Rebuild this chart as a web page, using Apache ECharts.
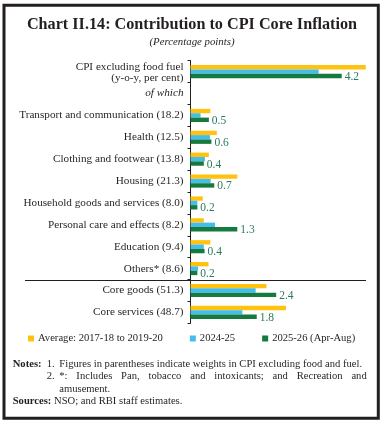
<!DOCTYPE html>
<html><head><meta charset="utf-8">
<script src="https://cdn.jsdelivr.net/npm/echarts@6/dist/echarts.min.js"></script>
<style>html,body{margin:0;padding:0;background:#fff}#c{width:384px;height:421px}</style>
</head><body><div id="c"></div>
<script>
const categories = [
  'CPI excluding food fuel\n(y-o-y, per cent)',
  'of which',
  'Transport and communication (18.2)',
  'Health (12.5)',
  'Clothing and footwear (13.8)',
  'Housing (21.3)',
  'Household goods and services (8.0)',
  'Personal care and effects (8.2)',
  'Education (9.4)',
  'Others* (8.6)',
  'Core goods (51.3)',
  'Core services (48.7)'
];
const seriesNames = ['Average: 2017-18 to 2019-20', '2024-25', '2025-26 (Apr-Aug)'];
const avg1720 = [4.87, null, 0.55, 0.73, 0.51, 1.30, 0.34, 0.37, 0.55, 0.50, 2.11, 2.65];
const fy2425  = [3.56, null, 0.28, 0.54, 0.40, 0.56, 0.19, 0.68, 0.37, 0.21, 1.81, 1.44];
const fy2526  = [4.20, null, 0.51, 0.58, 0.37, 0.66, 0.19, 1.30, 0.39, 0.19, 2.38, 1.84];

const SERIF = '"Liberation Serif", "DejaVu Serif", serif';
const INK = '#231f20';
const colors = ['#FFC20E', '#45BDEB', '#147A3E'];

const chart = echarts.init(document.getElementById('c'), null, {renderer: 'canvas'});

function measure(txt, font) {
  const ctx = document.createElement('canvas').getContext('2d');
  ctx.font = font;
  return ctx.measureText(txt).width;
}
function justified(words, x0, x1, y, size) {
  const font = size + 'px ' + SERIF;
  const widths = words.map(w => measure(w, font));
  const total = widths.reduce((a, b) => a + b, 0);
  const gap = (x1 - x0 - total) / (words.length - 1);
  const out = [];
  let x = x0;
  words.forEach((w, i) => {
    out.push({type: 'text', x: x, y: y, style: {text: w, font: font, fill: INK, textVerticalAlign: 'middle'}});
    x += widths[i] + gap;
  });
  return out;
}

const noteSize = 10.6;
const notesGraphic = [
  {type: 'rect', shape: {x: 4, y: 5.3, width: 374.3, height: 413}, style: {fill: 'none', stroke: INK, lineWidth: 3}},
  {type: 'text', x: 12.7, y: 364, style: {text: 'Notes:', font: 'bold ' + noteSize + 'px ' + SERIF, fill: INK, textVerticalAlign: 'middle'}},
  {type: 'text', x: 46.7, y: 364, style: {text: '1.', font: noteSize + 'px ' + SERIF, fill: INK, textVerticalAlign: 'middle'}},
  {type: 'text', x: 59.3, y: 364, style: {text: 'Figures in parentheses indicate weights in CPI excluding food and fuel.', font: noteSize + 'px ' + SERIF, fill: INK, textVerticalAlign: 'middle'}},
  {type: 'text', x: 46.7, y: 376.5, style: {text: '2.', font: noteSize + 'px ' + SERIF, fill: INK, textVerticalAlign: 'middle'}},
  ...justified(['*:', 'Includes', 'Pan,', 'tobacco', 'and', 'intoxicants;', 'and', 'Recreation', 'and'], 59.3, 366.7, 376.5, noteSize),
  {type: 'text', x: 59.3, y: 389, style: {text: 'amusement.', font: noteSize + 'px ' + SERIF, fill: INK, textVerticalAlign: 'middle'}},
  {type: 'text', x: 12.7, y: 401.7, style: {
    text: '{b|Sources:} NSO; and RBI staff estimates.',
    font: noteSize + 'px ' + SERIF, fill: INK, textVerticalAlign: 'middle',
    rich: {b: {fontWeight: 'bold', fontFamily: SERIF, fontSize: noteSize, fill: INK}}
  }}
];

const option = {
  animation: false,
  backgroundColor: '#fff',
  title: [
    {text: 'Chart II.14: Contribution to CPI Core Inflation', left: 'center', top: 16.5, padding: 0,
     textStyle: {fontFamily: SERIF, fontWeight: 'bold', fontSize: 16.2, color: INK}},
    {text: '(Percentage points)', left: 'center', top: 37, padding: 0,
     textStyle: {fontFamily: SERIF, fontStyle: 'italic', fontWeight: 'normal', fontSize: 10.8, color: INK}}
  ],
  legend: {
    data: seriesNames, left: 28, top: 333, padding: 0, itemGap: 27,
    itemWidth: 6, itemHeight: 6, icon: 'rect',
    textStyle: {fontFamily: SERIF, fontSize: 10.6, color: INK, padding: [0, 0, 0, -1]}
  },
  grid: {left: 190.5, right: 13.5, top: 60.7, bottom: 97.7, containLabel: false},
  xAxis: {type: 'value', min: 0, max: 5, show: false},
  yAxis: {
    type: 'category', data: categories, inverse: true,
    axisLine: {show: true, lineStyle: {color: INK, width: 1}},
    axisTick: {show: true, length: 3, lineStyle: {color: INK}},
    axisLabel: {
      margin: 7, fontFamily: SERIF, fontSize: 11.2, color: INK, lineHeight: 11,
      formatter: function (v) {
        if (v === 'of which') return '{i|of which}';
        if (v.indexOf('\n') >= 0) return v.split('\n').map(s => '{c|' + s + '}').join('\n');
        return v;
      },
      rich: {
        i: {fontFamily: SERIF, fontSize: 11.2, fontStyle: 'italic', color: INK},
        c: {fontFamily: SERIF, fontSize: 11.2, color: INK, lineHeight: 11, padding: [2, 0, 0, 0]}
      }
    }
  },
  series: [
    {name: seriesNames[0], type: 'bar', data: avg1720, itemStyle: {color: colors[0]}, barGap: '0%', barCategoryGap: '40%'},
    {name: seriesNames[1], type: 'bar', data: fy2425, itemStyle: {color: colors[1]}, barGap: '0%', barCategoryGap: '40%'},
    {name: seriesNames[2], type: 'bar', data: fy2526, itemStyle: {color: colors[2]}, barGap: '0%', barCategoryGap: '40%',
     label: {show: true, position: 'right', distance: 3, fontFamily: SERIF, fontSize: 11.5, color: '#2a7a5c',
             offset: [0, 1], formatter: p => p.value == null ? '' : p.value.toFixed(1)}}
  ],
  graphic: notesGraphic
};
chart.setOption(option);

const yA = chart.convertToPixel({yAxisIndex: 0}, categories[9]);
const yB = chart.convertToPixel({yAxisIndex: 0}, categories[10]);
const sepY = Math.round((yA + yB) / 2) + 0.5;
chart.setOption({graphic: notesGraphic.concat([
  {type: 'line', shape: {x1: 25, y1: sepY, x2: 366, y2: sepY}, style: {stroke: INK, lineWidth: 1}}
])});
</script>
</body></html>
